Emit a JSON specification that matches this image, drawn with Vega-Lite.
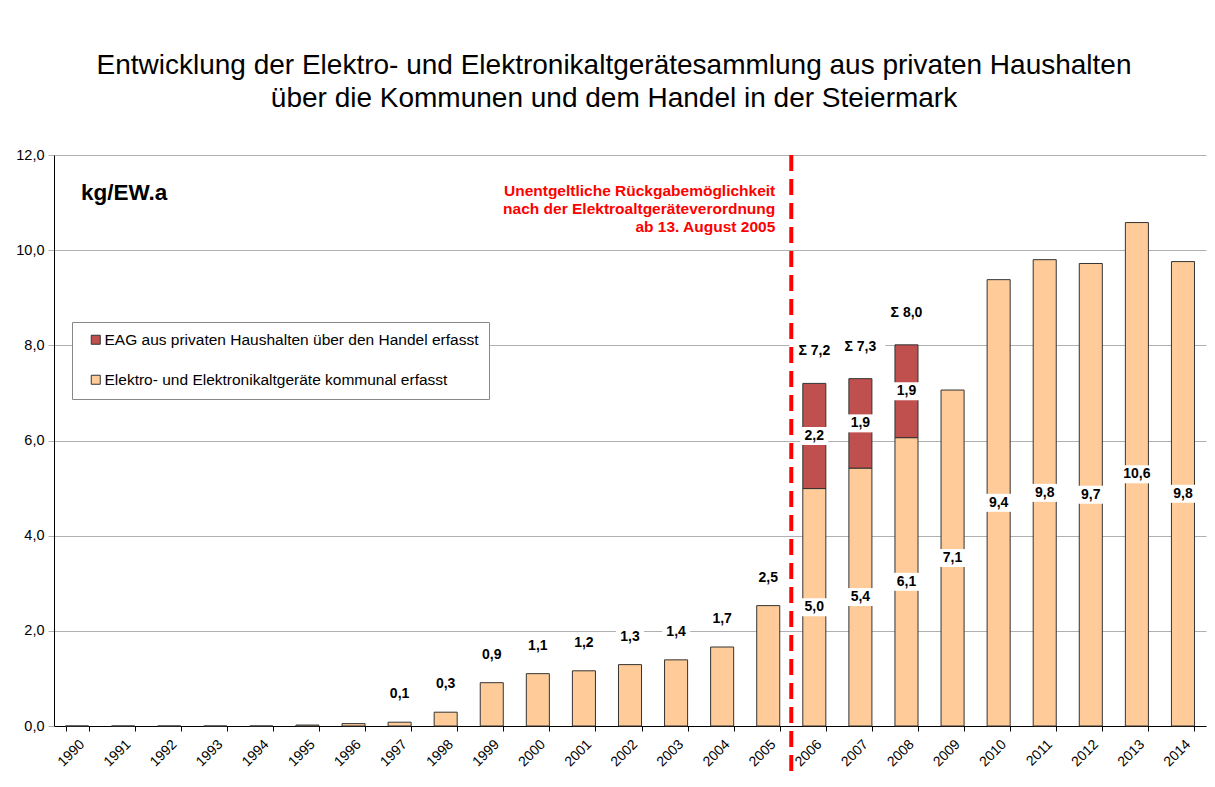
{
  "$schema": "https://vega.github.io/schema/vega-lite/v6.json",
  "width": 1152,
  "height": 571,
  "autosize": "none",
  "padding": {"left": 54, "top": 155, "right": 9, "bottom": 61},
  "background": "white",
  "title": {
    "text": ["Entwicklung der Elektro- und Elektronikaltgerätesammlung aus privaten Haushalten", "über die Kommunen und dem Handel in der Steiermark"],
    "font": "Liberation Sans",
    "fontSize": 28,
    "fontWeight": "normal",
    "color": "black",
    "lineHeight": 33,
    "anchor": "middle",
    "dx": -16,
    "offset": 34
  },
  "datasets": {
    "eag": [
      {"year": 1990, "series": "Elektro- und Elektronikaltgeräte kommunal erfasst", "value": 0},
      {"year": 1991, "series": "Elektro- und Elektronikaltgeräte kommunal erfasst", "value": 0},
      {"year": 1992, "series": "Elektro- und Elektronikaltgeräte kommunal erfasst", "value": 0},
      {"year": 1993, "series": "Elektro- und Elektronikaltgeräte kommunal erfasst", "value": 0},
      {"year": 1994, "series": "Elektro- und Elektronikaltgeräte kommunal erfasst", "value": 0},
      {"year": 1995, "series": "Elektro- und Elektronikaltgeräte kommunal erfasst", "value": 0.02},
      {"year": 1996, "series": "Elektro- und Elektronikaltgeräte kommunal erfasst", "value": 0.05},
      {"year": 1997, "series": "Elektro- und Elektronikaltgeräte kommunal erfasst", "value": 0.08},
      {"year": 1998, "series": "Elektro- und Elektronikaltgeräte kommunal erfasst", "value": 0.29},
      {"year": 1999, "series": "Elektro- und Elektronikaltgeräte kommunal erfasst", "value": 0.91},
      {"year": 2000, "series": "Elektro- und Elektronikaltgeräte kommunal erfasst", "value": 1.1},
      {"year": 2001, "series": "Elektro- und Elektronikaltgeräte kommunal erfasst", "value": 1.16},
      {"year": 2002, "series": "Elektro- und Elektronikaltgeräte kommunal erfasst", "value": 1.29},
      {"year": 2003, "series": "Elektro- und Elektronikaltgeräte kommunal erfasst", "value": 1.39},
      {"year": 2004, "series": "Elektro- und Elektronikaltgeräte kommunal erfasst", "value": 1.66},
      {"year": 2005, "series": "Elektro- und Elektronikaltgeräte kommunal erfasst", "value": 2.53},
      {"year": 2006, "series": "Elektro- und Elektronikaltgeräte kommunal erfasst", "value": 4.99},
      {"year": 2007, "series": "Elektro- und Elektronikaltgeräte kommunal erfasst", "value": 5.42},
      {"year": 2008, "series": "Elektro- und Elektronikaltgeräte kommunal erfasst", "value": 6.06},
      {"year": 2009, "series": "Elektro- und Elektronikaltgeräte kommunal erfasst", "value": 7.06},
      {"year": 2010, "series": "Elektro- und Elektronikaltgeräte kommunal erfasst", "value": 9.38},
      {"year": 2011, "series": "Elektro- und Elektronikaltgeräte kommunal erfasst", "value": 9.8},
      {"year": 2012, "series": "Elektro- und Elektronikaltgeräte kommunal erfasst", "value": 9.72},
      {"year": 2013, "series": "Elektro- und Elektronikaltgeräte kommunal erfasst", "value": 10.58},
      {"year": 2014, "series": "Elektro- und Elektronikaltgeräte kommunal erfasst", "value": 9.76},
      {"year": 2006, "series": "EAG aus privaten Haushalten über den Handel erfasst", "value": 2.21},
      {"year": 2007, "series": "EAG aus privaten Haushalten über den Handel erfasst", "value": 1.88},
      {"year": 2008, "series": "EAG aus privaten Haushalten über den Handel erfasst", "value": 1.95}
    ]
  },
  "data": {"name": "eag"},
  "encoding": {
    "x": {
      "field": "year",
      "type": "ordinal",
      "scale": {"paddingInner": 0.5, "paddingOuter": 0.25},
      "axis": {
        "title": null,
        "labelAngle": -45,
        "labelFont": "Liberation Sans",
        "labelFontSize": 14,
        "labelColor": "black",
        "domainColor": "black",
        "tickColor": "black",
        "tickSize": 5,
        "tickBand": "extent",
        "labelPadding": 6,
        "grid": false
      }
    }
  },
  "layer": [
    {
      "mark": {"type": "bar", "stroke": "#333333", "strokeWidth": 1},
      "encoding": {
        "y": {
          "field": "value",
          "type": "quantitative",
          "stack": "zero",
          "scale": {"domain": [0, 12], "nice": false},
          "axis": {
            "title": null,
            "values": [0, 2, 4, 6, 8, 10, 12],
            "format": ".1f",
            "grid": true,
            "gridColor": "#b0b0b0",
            "domainColor": "black",
            "tickColor": "#b0b0b0",
            "tickSize": 6,
            "labelFont": "Liberation Sans",
            "labelFontSize": 14.5,
            "labelColor": "black",
            "labelPadding": 4
          }
        },
        "color": {
          "field": "series",
          "type": "nominal",
          "scale": {
            "domain": ["EAG aus privaten Haushalten über den Handel erfasst", "Elektro- und Elektronikaltgeräte kommunal erfasst"],
            "range": ["#C0504D", "#FFCC99"]
          },
          "legend": {
            "orient": "none",
            "legendX": 18,
            "legendY": 167,
            "title": null,
            "fillColor": "white",
            "strokeColor": "#888888",
            "padding": 10,
            "symbolOffset": 6,
            "rowPadding": 23,
            "symbolType": "square",
            "symbolSize": 81,
            "symbolStrokeColor": "#333333",
            "symbolStrokeWidth": 1,
            "labelOffset": 1,
            "labelFont": "Liberation Sans",
            "labelFontSize": 15.5,
            "labelColor": "black",
            "labelLimit": 600
          }
        },
        "order": {"field": "series", "sort": "descending"}
      }
    },
    {
      "transform": [{"filter": {"field": "year", "range": [1997, 2005]}}],
      "mark": {"type": "point", "shape": "M-1,-0.643H1V0.643H-1Z", "size": 784, "filled": true, "color": "white", "opacity": 1, "strokeWidth": 0, "yOffset": -28},
      "encoding": {
        "y": {"field": "value", "type": "quantitative"}
      }
    },
    {
      "transform": [{"filter": {"field": "year", "range": [1997, 2005]}}],
      "mark": {"type": "text", "font": "Liberation Sans", "fontSize": 14, "fontWeight": "bold", "dy": -28, "baseline": "middle", "color": "black"},
      "encoding": {
        "y": {"field": "value", "type": "quantitative"},
        "text": {"field": "value", "type": "quantitative", "format": ".1f"}
      }
    },
    {
      "transform": [{"filter": {"field": "year", "range": [2006, 2014]}}],
      "mark": {"type": "point", "shape": "M-1,-0.643H1V0.643H-1Z", "size": 784, "filled": true, "color": "white", "opacity": 1, "strokeWidth": 0},
      "encoding": {
        "y": {"field": "value", "type": "quantitative", "stack": "zero", "bandPosition": 0.5},
        "detail": {"field": "series"},
        "order": {"field": "series", "sort": "descending"}
      }
    },
    {
      "transform": [{"filter": {"field": "year", "range": [2006, 2014]}}],
      "mark": {"type": "text", "font": "Liberation Sans", "fontSize": 14, "fontWeight": "bold", "baseline": "middle", "color": "black"},
      "encoding": {
        "y": {"field": "value", "type": "quantitative", "stack": "zero", "bandPosition": 0.5},
        "detail": {"field": "series"},
        "order": {"field": "series", "sort": "descending"},
        "text": {"field": "value", "type": "quantitative", "format": ".1f"}
      }
    },
    {
      "transform": [
        {"filter": {"field": "year", "range": [2006, 2008]}},
        {"aggregate": [{"op": "sum", "field": "value", "as": "total"}], "groupby": ["year"]}
      ],
      "mark": {"type": "point", "shape": "M-1,-0.4H1V0.4H-1Z", "size": 2500, "filled": true, "color": "white", "opacity": 1, "strokeWidth": 0, "yOffset": -32},
      "encoding": {
        "y": {"field": "total", "type": "quantitative"}
      }
    },
    {
      "transform": [
        {"filter": {"field": "year", "range": [2006, 2008]}},
        {"aggregate": [{"op": "sum", "field": "value", "as": "total"}], "groupby": ["year"]}
      ],
      "mark": {"type": "text", "font": "Liberation Sans", "fontSize": 14, "fontWeight": "bold", "dy": -32, "baseline": "middle", "color": "black"},
      "encoding": {
        "y": {"field": "total", "type": "quantitative"},
        "text": {"field": "total", "type": "quantitative", "format": "$.1f"}
      }
    },
    {
      "data": {"values": [{}]},
      "mark": {"type": "rule", "color": "#FF0000", "strokeWidth": 4, "strokeDash": [16, 8]},
      "encoding": {
        "x": {"datum": 2005, "type": "ordinal", "bandPosition": 1.5},
        "y": {"datum": 12, "type": "quantitative"},
        "y2": {"datum": -0.97}
      }
    },
    {
      "data": {"values": [{}]},
      "mark": {"type": "text", "font": "Liberation Sans", "fontSize": 15.5, "fontWeight": "bold", "color": "#FF0000", "align": "right", "baseline": "alphabetic", "lineHeight": 18, "dx": -16,
        "text": ["Unentgeltliche Rückgabemöglichkeit", "nach der Elektroaltgeräteverordnung", "ab 13. August 2005"]},
      "encoding": {
        "x": {"datum": 2005, "type": "ordinal", "bandPosition": 1.5},
        "y": {"datum": 11.14, "type": "quantitative"}
      }
    },
    {
      "data": {"values": [{}]},
      "mark": {"type": "text", "font": "Liberation Sans", "fontSize": 22.5, "fontWeight": "bold", "color": "black", "align": "left", "baseline": "middle", "dx": 15.5, "text": "kg/EW.a"},
      "encoding": {
        "x": {"datum": 1990, "type": "ordinal", "bandPosition": 0},
        "y": {"datum": 11.2, "type": "quantitative"}
      }
    }
  ],
  "config": {
    "view": {"stroke": null},
    "font": "Liberation Sans",
    "locale": {
      "number": {"decimal": ",", "thousands": ".", "grouping": [3], "currency": ["Σ ", ""]}
    }
  }
}
